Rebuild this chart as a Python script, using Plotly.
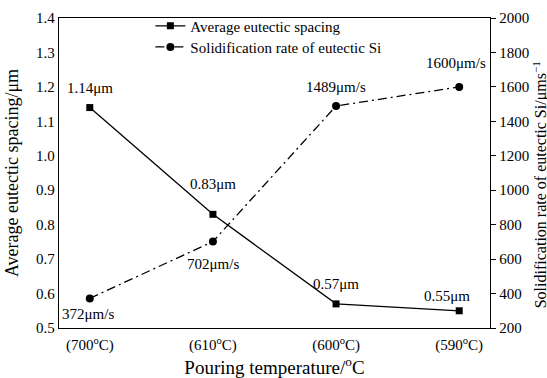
import plotly.graph_objects as go

categories = ["(700<sup>o</sup>C)", "(610<sup>o</sup>C)", "(600<sup>o</sup>C)", "(590<sup>o</sup>C)"]
spacing = [1.14, 0.83, 0.57, 0.55]
rate = [372, 702, 1489, 1600]
spacing_labels = ["1.14μm", "0.83μm", "0.57μm", "0.55μm"]
rate_labels = ["372μm/s", "702μm/s", "1489μm/s", "1600μm/s"]

xs = list(range(len(categories)))
FONT = "Liberation Serif"

fig = go.Figure()
fig.add_trace(go.Scatter(
    x=xs, y=spacing, mode="lines+markers", name="Average eutectic spacing",
    line=dict(color="black", width=1.3),
    marker=dict(symbol="square", size=7, color="black"),
    legend="legend",
))
fig.add_trace(go.Scatter(
    x=xs, y=rate, mode="lines+markers", name="Solidification rate of eutectic Si",
    line=dict(color="black", width=1.3, dash="9px,4px,2px,4px"),
    marker=dict(symbol="circle", size=8, color="black"),
    yaxis="y2", legend="legend2",
))

# label offsets (pixels)
sp_off = [(0, 20), (0, 30), (0, 20), (-12, 15)]
rt_off = [(-2, -16), (0, -22), (0, 19), (-3, 24)]
ann = []
for i in xs:
    dx, dy = sp_off[i]
    ann.append(dict(x=xs[i], y=spacing[i], xref="x", yref="y", text=spacing_labels[i],
                    showarrow=False, xshift=dx, yshift=dy,
                    font=dict(family=FONT, size=15, color="black")))
    dx, dy = rt_off[i]
    ann.append(dict(x=xs[i], y=rate[i], xref="x", yref="y2", text=rate_labels[i],
                    showarrow=False, xshift=dx, yshift=dy,
                    font=dict(family=FONT, size=15, color="black")))
ann.append(dict(x=1.0, y=0.462, xref="paper", yref="paper", xanchor="left", yanchor="middle",
                xshift=38, text="Solidification rate of eutectic Si/μms<sup>−1</sup>",
                textangle=-90, showarrow=False,
                font=dict(family=FONT, size=16, color="black")))

leg_common = dict(xanchor="left", yanchor="middle", bgcolor="rgba(0,0,0,0)",
                  font=dict(family=FONT, size=15, color="black"), itemwidth=30)

fig.update_layout(
    template="simple_white",
    width=547, height=378,
    margin=dict(l=59, r=57, t=10, b=50),
    paper_bgcolor="white", plot_bgcolor="white",
    font=dict(family=FONT, size=15, color="black"),
    showlegend=True,
    legend=dict(x=0.212, y=0.974, **leg_common),
    legend2=dict(x=0.212, y=0.906, **leg_common),
    xaxis=dict(
        tickmode="array", tickvals=xs, ticktext=categories,
        range=[-0.25, 3.25], showgrid=False, zeroline=False, automargin=False,
        showline=True, linecolor="black", linewidth=1.3, mirror=True,
        ticks="", ticklabelstandoff=3, tickfont=dict(family=FONT, size=15, color="black"),
        title=dict(text="Pouring temperature/<sup>o</sup>C", standoff=5,
                   font=dict(family=FONT, size=19, color="black")),
    ),
    yaxis=dict(
        range=[0.5, 1.4], dtick=0.1, tickformat=".1f", showgrid=False, zeroline=False,
        showline=True, linecolor="black", linewidth=1.3, ticks="", automargin=False,
        tickfont=dict(family=FONT, size=15, color="black"),
        title=dict(text="Average eutectic spacing/μm", standoff=12,
                   font=dict(family=FONT, size=18, color="black")),
    ),
    yaxis2=dict(
        range=[200, 2000], dtick=200, overlaying="y", side="right", automargin=False,
        showgrid=False, zeroline=False, showline=True, linecolor="black", linewidth=1.3,
        ticks="outside", ticklen=5, tickcolor="black",
        tickfont=dict(family=FONT, size=15, color="black"),
    ),
    annotations=ann,
)

fig.write_html("out.html")
